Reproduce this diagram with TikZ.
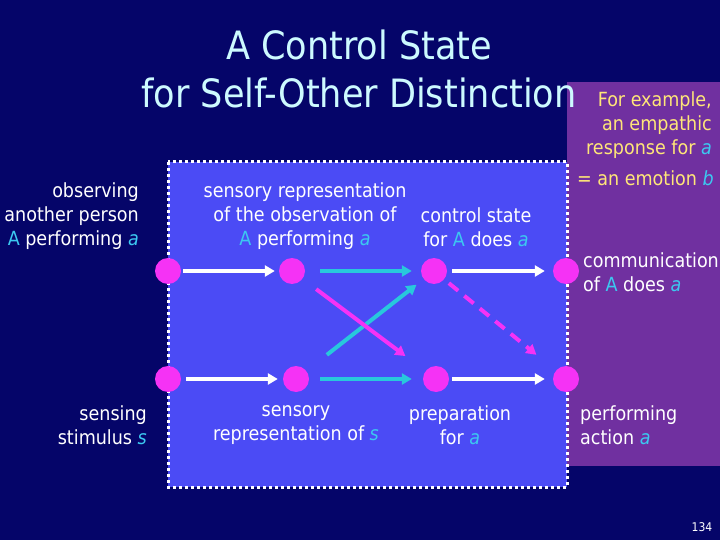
\documentclass[tikz,border=0pt]{standalone}
\usepackage{fontspec}
\setmainfont{DejaVu Sans Condensed}
\usetikzlibrary{arrows.meta}
\definecolor{bgnavy}{RGB}{5,5,105}
\definecolor{boxblue}{RGB}{75,75,245}
\definecolor{purp}{RGB}{112,48,160}
\definecolor{mag}{RGB}{245,50,245}
\definecolor{cyarrow}{RGB}{40,200,220}
\definecolor{hl}{RGB}{60,200,240}
\definecolor{yel}{RGB}{255,230,120}
\definecolor{titlec}{RGB}{205,250,255}
\newcommand{\hA}{\textcolor{hl}{A}}
\newcommand{\ha}[1]{\textcolor{hl}{\textit{#1}}}
\tikzset{
  dot/.style={circle,fill=mag,minimum size=26pt,inner sep=0pt},
  lbl/.style={text=white,inner sep=0pt,font=\fontsize{19.5}{24}\selectfont},
  arr/.style={line width=4pt,-{Triangle[length=10pt,width=11pt]}},
  warr/.style={arr,white},
  carr/.style={arr,cyarrow},
  marr/.style={arr,mag},
}
\begin{document}
\begin{tikzpicture}[x=1pt,y=-1pt]
\useasboundingbox (0,0) rectangle (720,540);
\fill[bgnavy] (0,0) rectangle (720,540);
\fill[purp] (567,82) rectangle (720,466);
\fill[boxblue] (168,162) rectangle (567,487);
\draw[white,line width=3pt,dash pattern=on 3pt off 3pt] (168,162) rectangle (567,487);

\node[text=titlec,align=center,inner sep=0pt,font=\fontsize{39}{48}\selectfont] (title) at (359,69) {A Control State\\for Self-Other Distinction};

\node[dot] (c11) at (168,271) {};
\node[dot] (c12) at (292,271) {};
\node[dot] (c13) at (434,271) {};
\node[dot] (c14) at (566,271) {};
\node[dot] (c21) at (168,379) {};
\node[dot] (c22) at (296,379) {};
\node[dot] (c23) at (436,379) {};
\node[dot] (c24) at (566,379) {};

\draw[warr,shorten <=2pt,shorten >=4pt] (c11) -- (c12);
\draw[warr,shorten <=5pt,shorten >=5pt] (c21) -- (c22);
\draw[carr,shorten <=15pt,shorten >=9pt] (c12) -- (c13);
\draw[carr,shorten <=11pt,shorten >=11pt] (c22) -- (c23);
\draw[carr,shorten <=26pt,shorten >=9pt] (c22) -- (c13);
\draw[marr,shorten <=17pt,shorten >=25pt] (c12) -- (c23);
\draw[warr,shorten <=5pt,shorten >=8pt] (c13) -- (c14);
\draw[warr,shorten <=3pt,shorten >=8pt] (c23) -- (c24);
\draw[marr,dash pattern=on 12pt off 8pt,shorten <=6pt,shorten >=25pt] (c13) -- (c24);

\node[lbl,align=right,anchor=east] (obs) at (139,216) {observing\\another person\\\hA{} performing \ha{a}};
\node[lbl,align=right,anchor=east] (sens) at (147,425) {sensing\\stimulus \ha{s}};
\node[lbl,align=center] (srep) at (305,216) {sensory representation\\of the observation of\\\hA{} performing \ha{a}};
\node[lbl,align=center] (cs) at (476,227) {control state\\for \hA{} does \ha{a}};
\node[lbl,align=center] (srs) at (296,425) {sensory\\representation of \ha{s}};
\node[lbl,align=center] (prep) at (460,425) {preparation\\for \ha{a}};
\node[lbl,text=yel,align=right,anchor=east] (ex1) at (712,125) {For example,\\an empathic\\response for \ha{a}};
\node[lbl,text=yel,anchor=east] (ex2) at (714,178) {= an emotion \ha{b}};
\node[lbl,align=left,anchor=west] (comm) at (583,272) {communication\\of \hA{} does \ha{a}};
\node[lbl,align=left,anchor=west] (perf) at (580,425) {performing\\action \ha{a}};
\node[text=white,inner sep=0pt,font=\fontsize{12}{14}\selectfont] (pg) at (702,527) {134};
\end{tikzpicture}
\end{document}
